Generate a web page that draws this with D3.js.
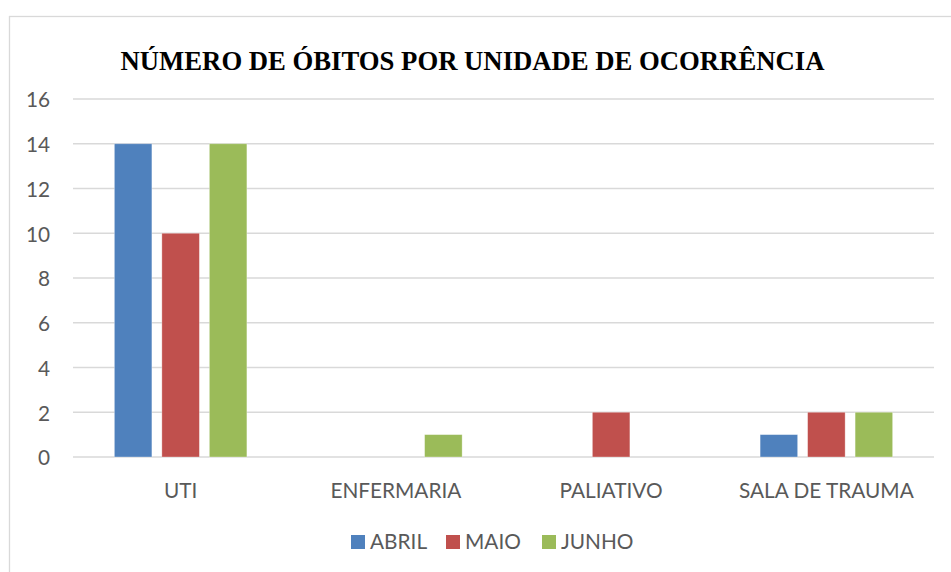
<!DOCTYPE html>
<html><head><meta charset="utf-8">
<script src="https://cdn.jsdelivr.net/npm/d3@7"></script>
<style>body{margin:0;background:#fff;}</style>
</head><body>
<svg id="c" width="951" height="572"></svg>
<script>
const categories = ["UTI", "ENFERMARIA", "PALIATIVO", "SALA DE TRAUMA"];
const seriesNames = ["ABRIL", "MAIO", "JUNHO"];
const abril = [14, 0, 0, 1];
const maio = [10, 0, 2, 2];
const junho = [14, 1, 0, 2];
const colors = ["#4f81bd", "#c0504d", "#9bbb59"];
const yTicks = [0, 2, 4, 6, 8, 10, 12, 14, 16];
const title = "NÚMERO DE ÓBITOS POR UNIDADE DE OCORRÊNCIA";

const values = [abril, maio, junho];
const svg = d3.select("#c");
const font = "Lato, 'Open Sans', sans-serif";
const fs = 20.8;

svg.append("rect").attr("x", 9.5).attr("y", 16.5).attr("width", 960).attr("height", 600)
  .attr("fill", "#fff").attr("stroke", "#d9d9d9").attr("stroke-width", 1.3);

const pL = 73, pR = 934, pT = 99, pB = 457;
const x0 = d3.scaleBand().domain(categories).range([pL, pR]).paddingInner(0).paddingOuter(0);
const x1 = d3.scaleBand().domain(seriesNames).range([0, x0.bandwidth()]).paddingInner(0.21).paddingOuter(0.871);
const y = d3.scaleLinear().domain([0, 16]).range([pB, pT]);

const g = svg.append("g");
g.selectAll("line.grid").data(yTicks).join("line")
  .attr("x1", pL).attr("x2", pR)
  .attr("y1", d => y(d)).attr("y2", d => y(d))
  .attr("stroke", "#d9d9d9").attr("stroke-width", 1.3);

const yAxis = d3.axisLeft(y).tickValues(yTicks).tickSize(0).tickPadding(0);
const ya = g.append("g").attr("transform", "translate(50,0)").call(yAxis);
ya.select(".domain").remove();
ya.selectAll("text").attr("font-family", font).attr("font-size", fs).attr("fill", "#595959").attr("dy", "0.38em");

categories.forEach((c, ci) => {
  seriesNames.forEach((s, si) => {
    const v = values[si][ci];
    if (v > 0) {
      g.append("rect")
        .attr("x", x0(c) + x1(s)).attr("width", x1.bandwidth())
        .attr("y", y(v)).attr("height", y(0) - y(v))
        .attr("fill", colors[si]).attr("stroke", "#fff").attr("stroke-opacity", 0.4).attr("stroke-width", 0.8);
    }
  });
});

const xAxis = d3.axisBottom(x0).tickSize(0).tickPadding(0);
const xa = g.append("g").attr("transform", "translate(0,491)").call(xAxis);
xa.select(".domain").remove();
xa.selectAll("text").attr("font-family", font).attr("font-size", fs).attr("fill", "#595959").attr("dy", "0.35em");

svg.append("text").attr("x", 472.5).attr("y", 70).attr("text-anchor", "middle")
  .attr("font-family", "'Liberation Serif', 'Times New Roman', serif").attr("font-weight", "bold")
  .attr("font-size", 26.7).attr("fill", "#000").text(title);

const legX = [351, 446, 542];
const leg = svg.append("g");
seriesNames.forEach((s, i) => {
  leg.append("rect").attr("x", legX[i]).attr("y", 535).attr("width", 14).attr("height", 14).attr("fill", colors[i]);
  leg.append("text").attr("x", legX[i] + 19).attr("y", 542).attr("dy", "0.35em")
    .attr("font-family", font).attr("font-size", fs).attr("fill", "#595959").text(s);
});
</script>
</body></html>
